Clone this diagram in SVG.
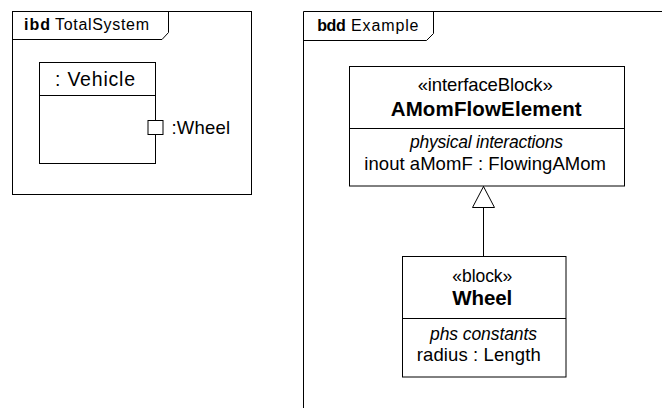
<svg xmlns="http://www.w3.org/2000/svg" width="662" height="408" viewBox="0 0 662 408">
<style>
.ln{fill:none;stroke:#000;stroke-width:1}
.bx{fill:#fff;stroke:#000;stroke-width:1}
text{font-family:"Liberation Sans",Arial,sans-serif;fill:#000}
.hd{font-size:16px}
.b{font-weight:bold}
.t{font-size:18.5px}
.s{font-size:17.5px}
.n{font-size:20.5px;font-weight:bold}
.i{font-style:italic}
</style>
<defs>
<marker id="gen" viewBox="0 0 22 23" refX="22" refY="11.5" markerWidth="22" markerHeight="23" markerUnits="userSpaceOnUse" orient="auto">
<path d="M0.5,0.5 L21.5,11.5 L0.5,22.5 Z" fill="#fff" stroke="#000" stroke-width="1"/>
</marker>
</defs>
<rect width="662" height="408" fill="#fff"/>
<g id="frame-ibd">
<rect class="bx" x="12.5" y="11.5" width="239" height="183"/>
<path class="ln" d="M12.5,39.5 H162 L168.5,32.5 V11.5"/>
<text class="hd b" x="24" y="30" textLength="26" lengthAdjust="spacing">ibd</text>
<text class="hd" x="55" y="30" textLength="94" lengthAdjust="spacing">TotalSystem</text>
</g>
<g id="vehicle">
<rect class="bx" x="39.5" y="62.5" width="116" height="101"/>
<line class="ln" x1="39.5" y1="95.5" x2="155.5" y2="95.5"/>
<text style="font-size:19.5px" x="55" y="85.5" textLength="80" lengthAdjust="spacing">: Vehicle</text>
</g>
<g id="port-wheel">
<rect class="bx" x="148" y="120.5" width="15" height="14"/>
<text class="t" x="171.5" y="134" textLength="58.5" lengthAdjust="spacing">:Wheel</text>
</g>
<g id="frame-bdd">
<path class="bx" d="M303.5,420 V11.5 H670 V420 Z"/>
<path class="ln" d="M303.5,40.5 H426.5 L433.5,33.5 V11.5"/>
<text class="hd b" x="317.3" y="30.5" textLength="28.4" lengthAdjust="spacing">bdd</text>
<text class="hd" x="351" y="30.5" textLength="67.5" lengthAdjust="spacing">Example</text>
</g>
<g id="amomflowelement">
<rect class="bx" x="349.5" y="66.5" width="275" height="119.5"/>
<line class="ln" x1="349.5" y1="128.5" x2="624.5" y2="128.5"/>
<text class="t" x="417.7" y="91" textLength="135" lengthAdjust="spacing">«interfaceBlock»</text>
<text class="n" x="390.7" y="116" textLength="191" lengthAdjust="spacing">AMomFlowElement</text>
<text class="s i" x="410" y="148" textLength="153" lengthAdjust="spacing">physical interactions</text>
<text class="t" x="364.3" y="170" textLength="241.7" lengthAdjust="spacing">inout aMomF : FlowingAMom</text>
</g>
<g id="wheel">
<rect class="bx" x="402.5" y="256.5" width="163.5" height="120.5"/>
<line class="ln" x1="402.5" y1="318.5" x2="566" y2="318.5"/>
<text class="s" x="452.3" y="282" textLength="60" lengthAdjust="spacing">«block»</text>
<text class="n" x="452.3" y="305" textLength="60" lengthAdjust="spacing">Wheel</text>
<text class="s i" x="430" y="340" textLength="107" lengthAdjust="spacing">phs constants</text>
<text class="t" x="416.7" y="361" textLength="124" lengthAdjust="spacing">radius : Length</text>
</g>
<g id="connectors">
<line class="ln" x1="483.5" y1="256.5" x2="483.5" y2="186" marker-end="url(#gen)"/>
</g>
</svg>
